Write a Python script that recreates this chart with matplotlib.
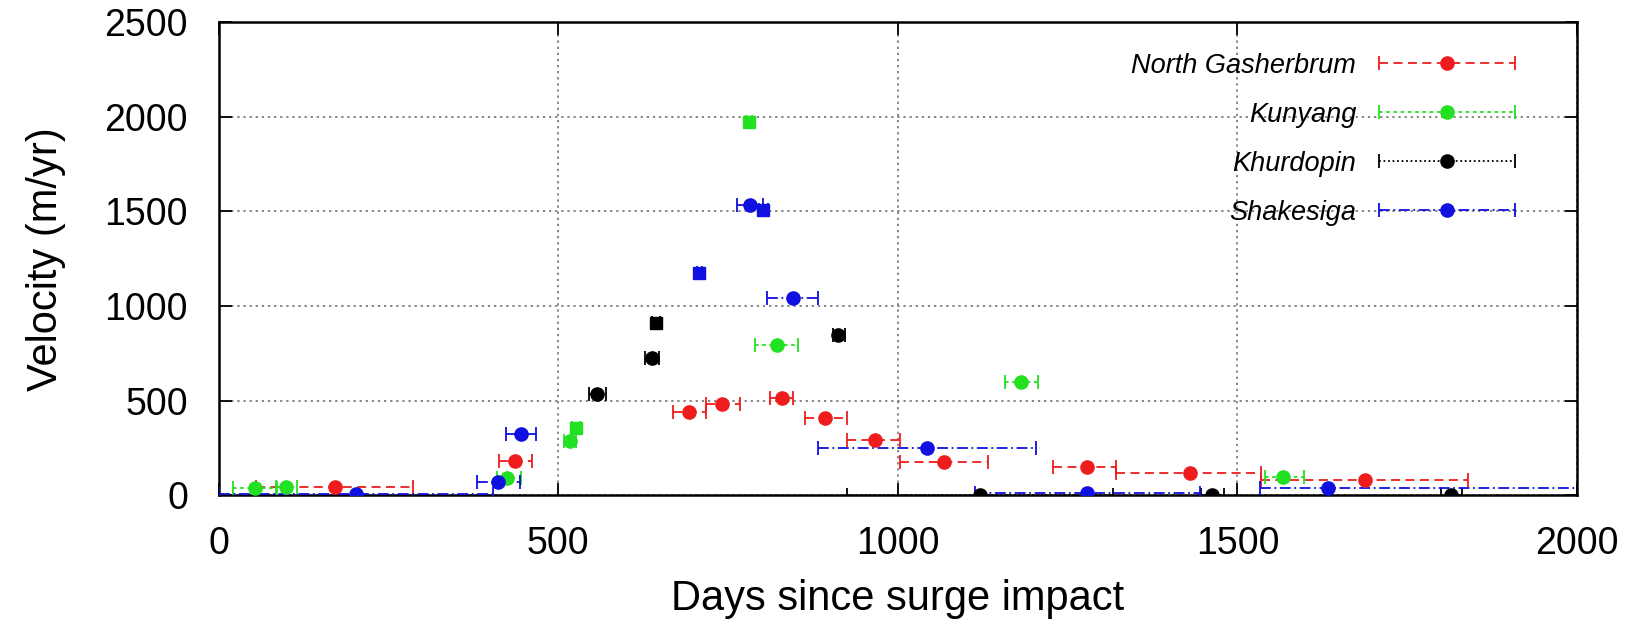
import matplotlib
matplotlib.use("Agg")
import matplotlib.pyplot as plt
from matplotlib.legend_handler import HandlerErrorbar
import numpy as np

plt.rcParams['font.family'] = ['Liberation Sans', 'DejaVu Sans']

# ---------------- data (days since surge impact, velocity m/yr) ----------------
# North Gasherbrum (circles)
ng_days = [171, 436, 693, 741, 829, 893, 966, 1068, 1278, 1430, 1688]
ng_vel = [45, 183, 440, 484, 517, 411, 294, 179, 149, 118, 82]
ng_lo = [55, 413, 669, 718, 812, 863, 925, 1003, 1229, 1322, 1535]
ng_hi = [287, 462, 718, 767, 846, 925, 1003, 1133, 1322, 1535, 1840]

# Kunyang circles
ku_days = [54, 99, 424, 517, 822, 1182, 1567]
ku_vel = [37, 47, 91, 285, 795, 601, 100]
ku_lo = [22, 85, 410, 508, 790, 1158, 1541]
ku_hi = [86, 115, 445, 526, 853, 1206, 1598]
# Kunyang squares
kus_days = [526, 781]
kus_vel = [355, 1974]
kus_lo = [520, 776]
kus_hi = [532, 786]

# Khurdopin circles
kh_days = [557, 638, 912, 1121, 1463, 1815]
kh_vel = [536, 725, 848, 3, 3, 3]
kh_lo = [545, 628, 905, 925, 1446, 1800]
kh_hi = [570, 648, 922, 1317, 1480, 1830]
# Khurdopin squares
khs_days = [644]
khs_vel = [910]
khs_lo = [638]
khs_hi = [650]

# Shakesiga circles
sh_days = [202, 411, 446, 782, 846, 1043, 1279, 1633]
sh_vel = [8, 73, 324, 1534, 1045, 253, 12, 39]
sh_lo = [0, 380, 423, 763, 807, 883, 1113, 1533]
sh_hi = [404, 444, 468, 801, 883, 1204, 1445, 2100]
# Shakesiga squares
shs_days = [708, 802]
shs_vel = [1176, 1508]
shs_lo = [704, 795]
shs_hi = [712, 809]

x_ticks = [0, 500, 1000, 1500, 2000]
y_ticks = [0, 500, 1000, 1500, 2000, 2500]

RED = '#ee1c1c'
GREEN = '#22e022'
BLACK = '#000000'
BLUE = '#1010e0'

fig = plt.figure(figsize=(16.32, 6.22), dpi=100)
ax = fig.add_axes([0.1339, 0.2034, 0.9663 - 0.1339, 0.9648 - 0.2034])


def xerr(d, lo, hi):
    d = np.asarray(d, float)
    return np.vstack([d - np.asarray(lo, float), np.asarray(hi, float) - d])


def series(days, vel, lo, hi, color, ls, marker, label=None, ms=9.5):
    eb = ax.errorbar(days, vel, xerr=xerr(days, lo, hi), fmt=marker, color=color,
                     ms=ms, mec=color, mfc=color, ecolor=color, elinewidth=1.3,
                     capsize=5, capthick=1.3, label=label, zorder=3)
    for ln in eb[2]:
        ln.set_linestyle(ls)
    return eb


h1 = series(ng_days, ng_vel, ng_lo, ng_hi, RED, (0, (5, 3)), 'o', 'North Gasherbrum')
h2 = series(ku_days, ku_vel, ku_lo, ku_hi, GREEN, (0, (2, 2)), 'o', 'Kunyang')
series(kus_days, kus_vel, kus_lo, kus_hi, GREEN, (0, (2, 2)), 's', ms=9)
h3 = series(kh_days, kh_vel, kh_lo, kh_hi, BLACK, (0, (1, 1.5)), 'o', 'Khurdopin')
series(khs_days, khs_vel, khs_lo, khs_hi, BLACK, (0, (1, 1.5)), 's', ms=9)
h4 = series(sh_days, sh_vel, sh_lo, sh_hi, BLUE, (0, (6, 2, 1, 2)), 'o', 'Shakesiga')
series(shs_days, shs_vel, shs_lo, shs_hi, BLUE, (0, (6, 2, 1, 2)), 's', ms=9)

ax.set_xlim(0, 2000)
ax.set_ylim(0, 2500)
ax.set_xticks(x_ticks)
ax.set_yticks(y_ticks)
ax.grid(True, color='#666666', linestyle=(0, (1.5, 2.5)), linewidth=1.1, zorder=0)
ax.set_axisbelow(True)
ax.tick_params(direction='in', length=9, width=1.3, top=True, right=True,
               labelsize=27, pad=22)
for sp in ax.spines.values():
    sp.set_linewidth(1.8)

ax.set_xlabel('Days since surge impact', fontsize=30, labelpad=12)
ax.set_ylabel('Velocity (m/yr)', fontsize=30, labelpad=28)

leg = ax.legend(handles=[h1, h2, h3, h4], loc='upper right',
                bbox_to_anchor=(0.955, 0.935), frameon=False, markerfirst=False,
                handlelength=5.1, handletextpad=0.8, labelspacing=0.85,
                borderaxespad=0, borderpad=0,
                handler_map={type(h1): HandlerErrorbar(xerr_size=2.5)},
                prop={'size': 19.5, 'style': 'italic'})

fig.savefig('out.png', dpi=100)
